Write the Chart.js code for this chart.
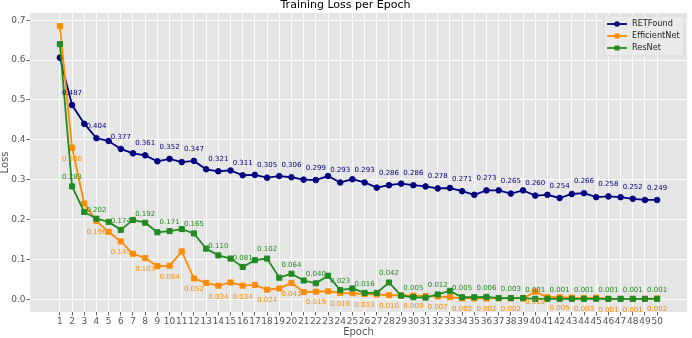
<!DOCTYPE html>
<html>
<head>
<meta charset="utf-8">
<title>Training Loss per Epoch</title>
<script src="https://cdn.jsdelivr.net/npm/chart.js"></script>
<style>
  html, body { margin: 0; padding: 0; background: #fff; }
  #wrap { width: 692px; height: 338px; }
</style>
</head>
<body>
<div id="wrap"><canvas id="lossChart" width="692" height="338"></canvas></div>
<script>
// data
var epochs = [1, 2, 3, 4, 5, 6, 7, 8, 9, 10, 11, 12, 13, 14, 15, 16, 17, 18, 19, 20,
              21, 22, 23, 24, 25, 26, 27, 28, 29, 30, 31, 32, 33, 34, 35, 36, 37, 38, 39, 40,
              41, 42, 43, 44, 45, 46, 47, 48, 49, 50];

var retfound_loss = [0.606, 0.487, 0.440, 0.404, 0.397, 0.377, 0.366, 0.361, 0.346, 0.352,
                     0.344, 0.347, 0.326, 0.321, 0.323, 0.311, 0.312, 0.305, 0.309, 0.306,
                     0.300, 0.299, 0.309, 0.293, 0.301, 0.293, 0.280, 0.286, 0.290, 0.286,
                     0.283, 0.278, 0.279, 0.271, 0.262, 0.273, 0.273, 0.265, 0.273, 0.260,
                     0.262, 0.254, 0.264, 0.266, 0.256, 0.258, 0.256, 0.252, 0.249, 0.249];

var efficientnet_loss = [0.685, 0.380, 0.240, 0.196, 0.169, 0.145, 0.114, 0.103, 0.083, 0.084,
                         0.120, 0.052, 0.041, 0.034, 0.042, 0.034, 0.036, 0.024, 0.027, 0.041,
                         0.018, 0.019, 0.020, 0.016, 0.015, 0.013, 0.012, 0.010, 0.010, 0.009,
                         0.008, 0.007, 0.005, 0.002, 0.002, 0.002, 0.002, 0.002, 0.002, 0.019,
                         0.005, 0.005, 0.004, 0.003, 0.004, 0.001, 0.001, 0.001, 0.001, 0.002];

var resnet_loss = [0.640, 0.283, 0.219, 0.202, 0.194, 0.174, 0.199, 0.192, 0.168, 0.171,
                   0.176, 0.165, 0.127, 0.110, 0.102, 0.081, 0.098, 0.102, 0.054, 0.064,
                   0.047, 0.040, 0.059, 0.023, 0.027, 0.016, 0.016, 0.042, 0.009, 0.005,
                   0.004, 0.012, 0.021, 0.005, 0.005, 0.006, 0.003, 0.003, 0.003, 0.001,
                   0.001, 0.001, 0.001, 0.001, 0.001, 0.001, 0.001, 0.001, 0.001, 0.001];

var y_ticks = [0.0, 0.1, 0.2, 0.3, 0.4, 0.5, 0.6, 0.7];

var FONT = "'DejaVu Sans', sans-serif";

function to_points(values) {
    var pts = [];
    for (var i = 0; i < values.length; i++) {
        pts.push({ x: epochs[i], y: values[i] });
    }
    return pts;
}

function make_dataset(name, values, color, style, radius, label_offset, order) {
    return {
        label: name,
        data: to_points(values),
        borderColor: color,
        backgroundColor: color,
        borderWidth: 1.8,
        pointStyle: style,
        pointRadius: radius,
        pointBorderWidth: 1,
        pointBorderColor: color,
        pointBackgroundColor: color,
        tension: 0,
        order: order,
        label_offset: label_offset
    };
}

// grey ggplot-like panel
var plot_bg = {
    id: 'plot_bg',
    beforeDraw: function (chart) {
        var a = chart.chartArea, ctx = chart.ctx;
        ctx.save();
        ctx.fillStyle = '#e5e5e5';
        ctx.fillRect(a.left, a.top, a.right - a.left, a.bottom - a.top);
        ctx.restore();
    }
};

// value text on every second epoch
var value_labels = {
    id: 'value_labels',
    afterDatasetsDraw: function (chart) {
        var ctx = chart.ctx;
        var xs = chart.scales.x, ys = chart.scales.y;
        ctx.save();
        ctx.font = '7px ' + FONT;
        ctx.textAlign = 'center';
        ctx.textBaseline = 'middle';
        chart.data.datasets.forEach(function (ds) {
            ctx.fillStyle = ds.borderColor;
            ds.data.forEach(function (p) {
                if (p.x % 2 !== 0) return;
                var px = xs.getPixelForValue(p.x);
                var py = ys.getPixelForValue(p.y) + ds.label_offset;
                ctx.fillText(p.y.toFixed(3), px, py);
            });
        });
        ctx.restore();
    }
};

// legend drawn inside the panel, upper right
var inside_legend = {
    id: 'inside_legend',
    afterDraw: function (chart) {
        var ctx = chart.ctx;
        var a = chart.chartArea;
        var boxW = 80, boxH = 40;
        var bx = a.right - boxW - 3, by = a.top + 3;
        ctx.save();
        ctx.fillStyle = 'rgba(235,235,235,0.85)';
        ctx.strokeStyle = '#d6d6d6';
        ctx.lineWidth = 0.8;
        ctx.beginPath();
        ctx.roundRect(bx, by, boxW, boxH, 2);
        ctx.fill();
        ctx.stroke();
        ctx.font = '8.2px ' + FONT;
        ctx.textBaseline = 'middle';
        ctx.textAlign = 'left';
        chart.data.datasets.forEach(function (ds, i) {
            var cy = by + 8 + i * 12;
            var x0 = bx + 3, x1 = bx + 23;
            ctx.strokeStyle = ds.borderColor;
            ctx.lineWidth = 1.8;
            ctx.beginPath();
            ctx.moveTo(x0, cy);
            ctx.lineTo(x1, cy);
            ctx.stroke();
            ctx.fillStyle = ds.borderColor;
            var mx = (x0 + x1) / 2;
            if (ds.pointStyle === 'circle') {
                ctx.beginPath();
                ctx.arc(mx, cy, 2.8, 0, Math.PI * 2);
                ctx.fill();
            } else {
                ctx.fillRect(mx - 2.5, cy - 2.5, 5, 5);
            }
            ctx.fillStyle = '#222';
            ctx.fillText(ds.label, bx + 28, cy);
        });
        ctx.restore();
    }
};

var ctx = document.getElementById('lossChart').getContext('2d');
var myChart = new Chart(ctx, {
    type: 'line',
    data: {
        datasets: [
            make_dataset('RETFound', retfound_loss, '#000080', 'circle', 2.8, -12, 2),
            make_dataset('EfficientNet', efficientnet_loss, '#ff8c00', 'rect', 3.6, 11, 1),
            make_dataset('ResNet', resnet_loss, '#228b22', 'rect', 3.6, -9, 0)
        ]
    },
    options: {
        responsive: false,
        animation: false,
        devicePixelRatio: 1,
        layout: { padding: { left: 0, right: 1, top: 0, bottom: 0 } },
        plugins: {
            legend: { display: false },
            tooltip: { enabled: false },
            title: {
                display: true,
                text: 'Training Loss per Epoch',
                color: '#000',
                font: { family: FONT, size: 11, weight: 'normal', lineHeight: 1.0 },
                padding: { top: 0, bottom: 2 }
            }
        },
        scales: {
            x: {
                type: 'linear',
                min: -1.45,
                max: 52.45,
                afterBuildTicks: function (scale) {
                    scale.ticks = epochs.map(function (v) { return { value: v }; });
                },
                afterFit: function (scale) { scale.height = 26; },
                ticks: {
                    autoSkip: false,
                    maxRotation: 0,
                    minRotation: 0,
                    padding: 1,
                    color: '#555',
                    font: { family: FONT, size: 9 },
                    callback: function (v) { return String(v); }
                },
                grid: { color: '#ffffff', lineWidth: 0.9, tickColor: '#555', tickLength: 3.5, drawTicks: true },
                border: { display: false },
                title: {
                    display: true,
                    text: 'Epoch',
                    color: '#555',
                    font: { family: FONT, size: 10 },
                    padding: 0
                }
            },
            y: {
                type: 'linear',
                min: -0.032,
                max: 0.718,
                afterBuildTicks: function (scale) {
                    scale.ticks = y_ticks.map(function (v) { return { value: v }; });
                },
                afterFit: function (scale) { scale.width = 30; },
                ticks: {
                    padding: 1,
                    color: '#555',
                    font: { family: FONT, size: 9 },
                    callback: function (v) { return v.toFixed(1); }
                },
                grid: { color: '#ffffff', lineWidth: 0.9, tickColor: '#555', tickLength: 3.5, drawTicks: true },
                border: { display: false },
                title: {
                    display: true,
                    text: 'Loss',
                    color: '#555',
                    font: { family: FONT, size: 10, lineHeight: 1.0 },
                    padding: 0
                }
            }
        }
    },
    plugins: [plot_bg, value_labels, inside_legend]
});
</script>
</body>
</html>
